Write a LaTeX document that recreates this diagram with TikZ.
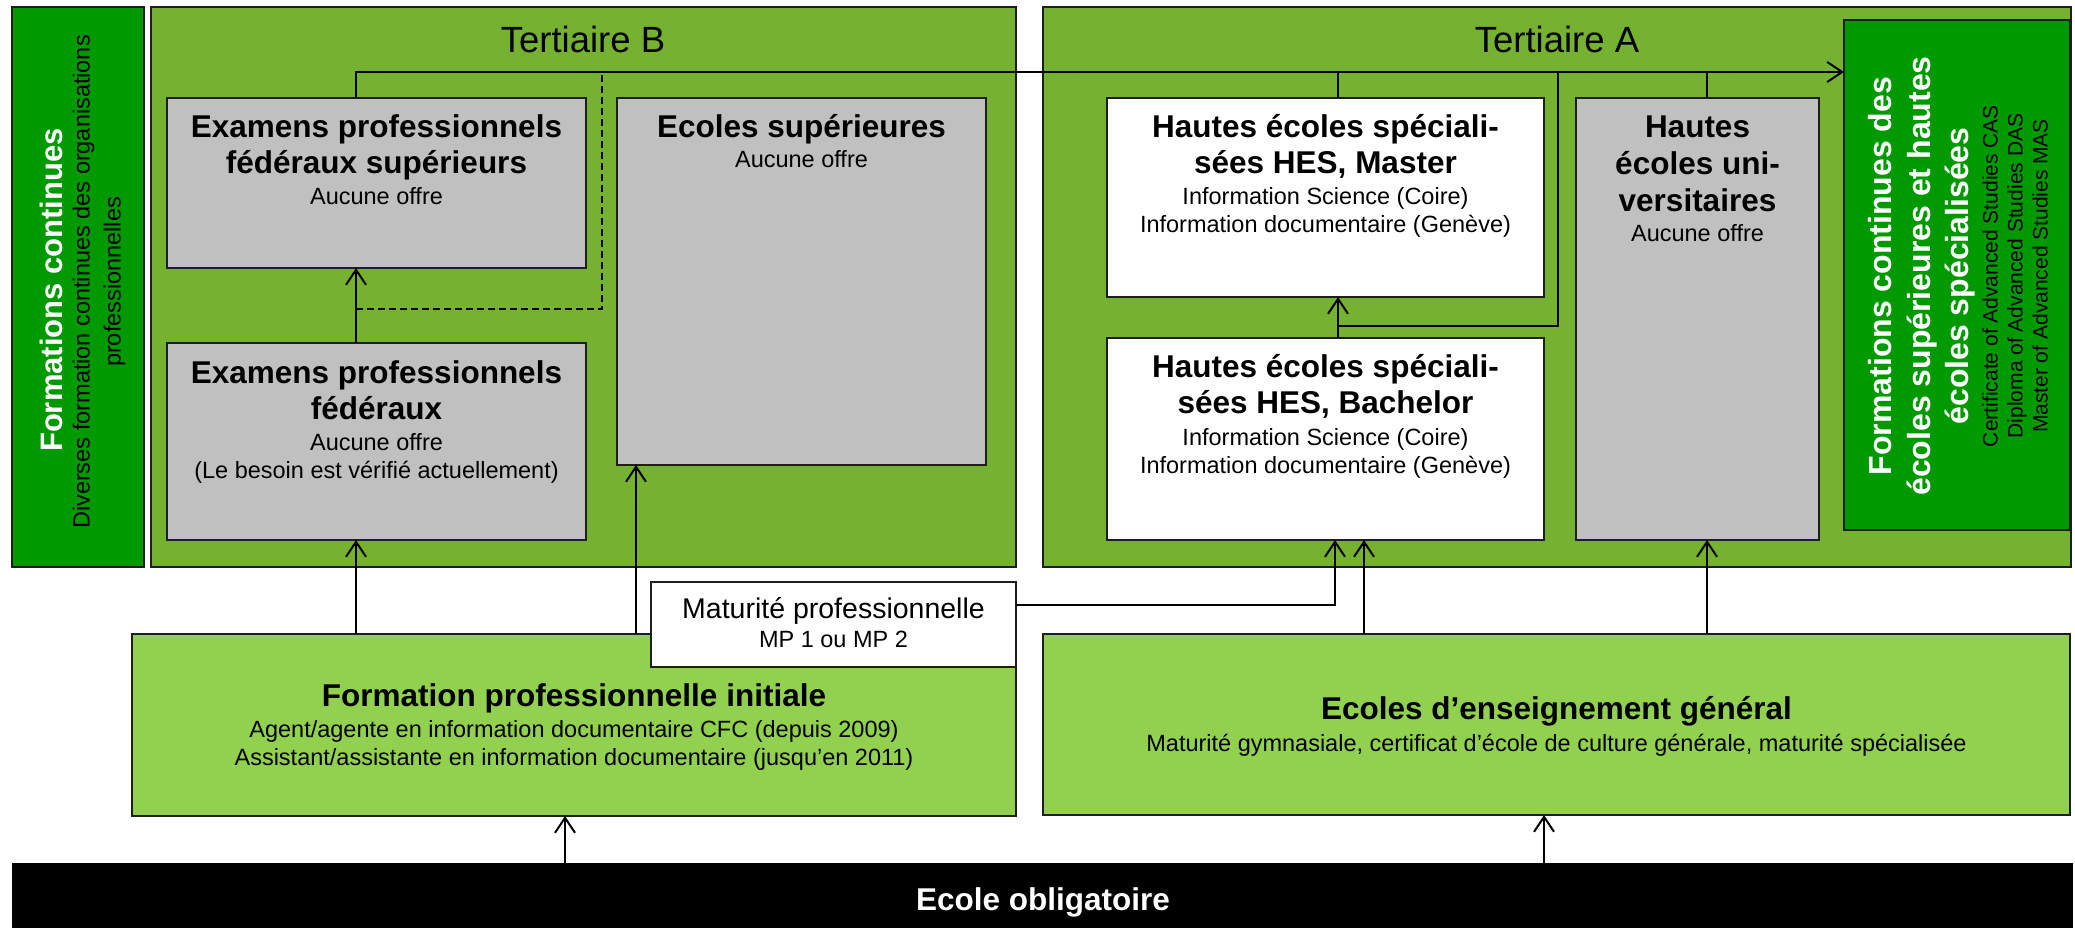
\documentclass[tikz,border=0pt]{standalone}
\usepackage{fontspec}
\setmainfont{Liberation Sans}
\usetikzlibrary{arrows.meta,calc}
\definecolor{dkgreen}{RGB}{0,153,0}
\definecolor{panelgreen}{RGB}{118,178,50}
\definecolor{ltgreen}{RGB}{146,208,80}
\definecolor{greybox}{RGB}{192,192,192}
\definecolor{bordercol}{RGB}{30,30,30}
\newcommand\mystrut{\rule{0pt}{0.8em}}
\begin{document}
\begin{tikzpicture}[x=1pt,y=-1pt,
  box/.style={draw=bordercol, line width=2pt, inner sep=0pt, outer sep=0pt, anchor=north west},
  conn/.style={line width=2pt, draw=black},
  arr/.style={conn, -{Straight Barb[length=15pt,width=20pt]}},
  ttl/.style={font=\bfseries\fontsize{31.5}{36}\selectfont, align=center, inner sep=0pt, anchor=north},
  sub/.style={font=\fontsize{23.5}{28}\selectfont, align=center, inner sep=0pt, anchor=north},
  tier/.style={font=\fontsize{36.5}{40}\selectfont, inner sep=0pt, anchor=north}
]
\useasboundingbox (0,0) rectangle (2075,928);
\fill[white] (0,0) rectangle (2075,928);

% panels
\node[box,fill=dkgreen,minimum width=132pt,minimum height=560pt] (lfc) at (12,7) {};
\node[box,fill=panelgreen,minimum width=865pt,minimum height=560pt] (tb) at (151,7) {};
\node[box,fill=panelgreen,minimum width=1028pt,minimum height=560pt] (ta) at (1043,7) {};

% boxes in Tertiaire B
\node[box,fill=greybox,minimum width=419pt,minimum height=170pt] (exs) at (167,98) {};
\node[box,fill=greybox,minimum width=419pt,minimum height=197pt] (exf) at (167,343) {};
\node[box,fill=greybox,minimum width=369pt,minimum height=367pt] (esup) at (617,98) {};

% boxes in Tertiaire A
\node[box,fill=white,minimum width=437pt,minimum height=199pt] (hm) at (1107,98) {};
\node[box,fill=white,minimum width=437pt,minimum height=202pt] (hb) at (1107,338) {};
\node[box,fill=greybox,minimum width=243pt,minimum height=442pt] (hu) at (1576,98) {};
\node[box,fill=dkgreen,minimum width=226pt,minimum height=510pt] (rfc) at (1844,20) {};

% lower boxes
\node[box,fill=ltgreen,minimum width=884pt,minimum height=182pt] (fpi) at (132,634) {};
\node[box,fill=ltgreen,minimum width=1027pt,minimum height=181pt] (eg) at (1043,634) {};
\node[box,fill=white,minimum width=365pt,minimum height=85pt] (mat) at (651,582) {};
\node[box,fill=black,draw=black,minimum width=2059pt,minimum height=70pt] (eo) at (13,864) {};

% helper coordinates
\coordinate (xa) at (356,72);
\coordinate (xd) at (602,72);
\coordinate (xm) at (1338,72);
\coordinate (xj) at (1558,326);
\coordinate (xu) at (1707,72);
\coordinate (xe) at (636,0);
\coordinate (xmb) at (1335,605);
\coordinate (xgb) at (1364,0);
\coordinate (xo1) at (565,0);
\coordinate (xo2) at (1544,0);
\coordinate (yd) at (0,309);

% connectors
\draw[arr] (xa |- exs.north) -- (xa) -- (xa -| rfc.west);
\draw[conn] (xm |- hm.north) -- (xm);
\draw[conn] (xu |- hu.north) -- (xu);
\draw[arr] (xm |- hb.north) -- (xm |- hm.south);
\draw[conn] (xm |- xj) -- (xj) -- (xj |- xa);
\draw[conn,dash pattern=on 7pt off 4pt] (xa |- yd) -- (xd |- yd) -- (xd);
\draw[arr] (xa |- exf.north) -- (xa |- exs.south);
\draw[arr] (xa |- fpi.north) -- (xa |- exf.south);
\draw[arr] (xe |- fpi.north) -- (xe |- esup.south);
\draw[arr] (mat.east |- xmb) -- (xmb) -- (xmb |- hb.south);
\draw[arr] (xgb |- eg.north) -- (xgb |- hb.south);
\draw[arr] (xu |- eg.north) -- (xu |- hu.south);
\draw[arr] (xo1 |- eo.north) -- (xo1 |- fpi.south);
\draw[arr] (xo2 |- eo.north) -- (xo2 |- eg.south);

% tier titles
\node[tier] (tbt) at (583,22.8) {\mystrut Tertiaire B};
\node[tier] (tat) at (1557,22.8) {\mystrut Tertiaire A};

% texts
\node[ttl] (exs-t) at (376.5,112.4) {\mystrut Examens professionnels\\fédéraux supérieurs};
\node[sub] (exs-s) at (376.5,185.2) {\mystrut Aucune offre};

\node[ttl] (exf-t) at (376.5,358.4) {\mystrut Examens professionnels\\fédéraux};
\node[sub] (exf-s) at (376.5,431.2) {\mystrut Aucune offre\\(Le besoin est vérifié actuellement)};

\node[ttl] (esup-t) at (801.5,112.4) {\mystrut Ecoles supérieures};
\node[sub] (esup-s) at (801.5,148.2) {\mystrut Aucune offre};

\node[ttl] (hm-t) at (1325.5,112.4) {\mystrut Hautes écoles spéciali-\\sées HES, Master};
\node[sub] (hm-s) at (1325.5,185.2) {\mystrut Information Science (Coire)\\Information documentaire (Genève)};

\node[ttl] (hb-t) at (1325.5,352.4) {\mystrut Hautes écoles spéciali-\\sées HES, Bachelor};
\node[sub] (hb-s) at (1325.5,426.2) {\mystrut Information Science (Coire)\\Information documentaire (Genève)};

\node[ttl,font=\bfseries\fontsize{31.5}{37}\selectfont] (hu-t) at (1697.5,112) {\mystrut Hautes\\écoles uni-\\versitaires};
\node[sub] (hu-s) at (1697.5,222.2) {\mystrut Aucune offre};

\node[ttl] (fpi-t) at (574,681.4) {\mystrut Formation professionnelle initiale};
\node[sub] (fpi-s) at (574,718.2) {\mystrut Agent/agente en information documentaire CFC (depuis 2009)\\Assistant/assistante en information documentaire (jusqu’en 2011)};

\node[ttl] (eg-t) at (1556.5,694.4) {\mystrut Ecoles d’enseignement général};
\node[sub] (eg-s) at (1556.5,732.2) {\mystrut Maturité gymnasiale, certificat d’école de culture générale, maturité spécialisée};

\node[sub,font=\fontsize{28.5}{32}\selectfont] (mat-t) at (833.5,595.2) {\mystrut Maturité professionnelle};
\node[sub] (mat-s) at (833.5,628.2) {\mystrut MP 1 ou MP 2};

\node[ttl,text=white] (eo-t) at (1043,884.8) {\mystrut Ecole obligatoire};

% rotated texts
\node[rotate=90, align=center, font=\bfseries\fontsize{31}{36}\selectfont, text=white, inner sep=0pt] (lfc-t) at (51,290) {Formations continues};
\node[rotate=90, align=center, font=\fontsize{23.5}{31}\selectfont, inner sep=0pt] (lfc-s) at (99,282) {Diverses formation continues des organisations\\professionnelles};

\node[rotate=90, align=center, font=\bfseries\fontsize{32}{38.5}\selectfont, text=white, inner sep=0pt] (rfc-t) at (1922,276) {Formations continues des\\écoles supérieures et hautes\\écoles spécialisées};
\node[rotate=90, align=center, font=\fontsize{21}{25}\selectfont, inner sep=0pt] (rfc-s) at (2015,276) {Certificate of Advanced Studies CAS\\Diploma of Advanced Studies DAS\\Master of Advanced Studies MAS};
\end{tikzpicture}
\end{document}
